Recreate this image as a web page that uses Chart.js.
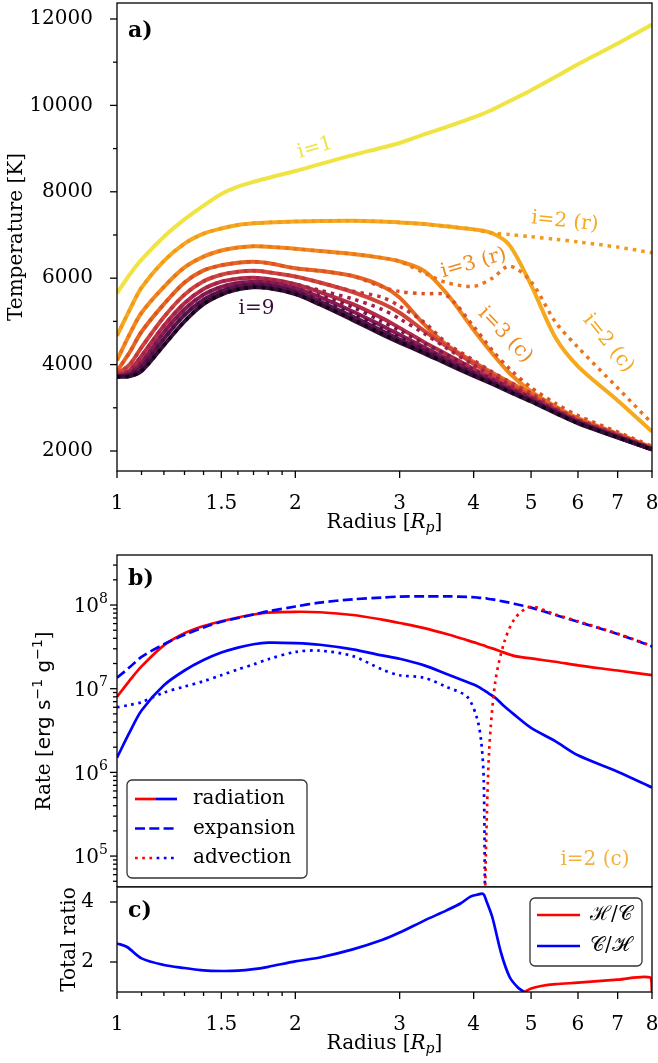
<!DOCTYPE html>
<html>
<head>
<meta charset="utf-8">
<script src="https://cdn.jsdelivr.net/npm/chart.js@4.4.1/dist/chart.umd.min.js"></script>
<style>
  body { margin: 0; background: #fff; width: 658px; height: 1063px; position: relative; overflow: hidden; }
  canvas { position: absolute; left: 0; }
</style>
</head>
<body>
<canvas id="chartA" width="658" height="540" style="top:0"></canvas>
<canvas id="chartB" width="658" height="342" style="top:545px"></canvas>
<canvas id="chartC" width="658" height="183" style="top:880px"></canvas>
<script>
// ── panel a: temperature profiles per iteration ──────────────────────────
const radiusA = [1, 1.05, 1.1, 1.2, 1.3, 1.4, 1.5, 1.6, 1.7, 1.8, 2, 2.2, 2.5, 2.8, 3, 3.3, 3.6, 4, 4.3, 4.6, 5, 5.5, 6, 7, 8];
const T1c = [5650, 6080, 6430, 6960, 7360, 7680, 7950, 8120, 8230, 8320, 8480, 8640, 8850, 9020, 9130, 9330, 9500, 9720, 9900, 10100, 10350, 10660, 10950, 11430, 11870];
const T2c = [4670, 5260, 5780, 6400, 6800, 7030, 7150, 7230, 7270, 7290, 7310, 7325, 7330, 7310, 7290, 7255, 7200, 7130, 7040, 6760, 5840, 4620, 3960, 3170, 2450];
const T2r = [4670, 5260, 5780, 6400, 6800, 7030, 7150, 7230, 7270, 7290, 7310, 7325, 7330, 7310, 7290, 7255, 7200, 7130, 7040, 7010, 6960, 6900, 6840, 6720, 6590];
const T3c = [4100, 4700, 5200, 5800, 6250, 6500, 6640, 6710, 6740, 6730, 6680, 6630, 6560, 6470, 6390, 6170, 5650, 4800, 4260, 3800, 3380, 3030, 2760, 2400, 2080];
const T3r = [4100, 4700, 5200, 5800, 6250, 6500, 6640, 6710, 6740, 6730, 6680, 6630, 6560, 6470, 6390, 6120, 5900, 5810, 6000, 6280, 5920, 4980, 4400, 3460, 2640];
const T4c = [3850, 4280, 4760, 5400, 5900, 6180, 6300, 6360, 6380, 6350, 6230, 6170, 6050, 5820, 5550, 4930, 4460, 4060, 3810, 3590, 3330, 2990, 2720, 2380, 2070];
const T4r = [3850, 4280, 4760, 5400, 5900, 6180, 6300, 6360, 6380, 6350, 6230, 6170, 6050, 5800, 5690, 5640, 5600, 4880, 4330, 3900, 3470, 3100, 2820, 2440, 2110];
const T5c = [3780, 4000, 4400, 5100, 5620, 5930, 6080, 6150, 6170, 6140, 6040, 5900, 5680, 5420, 5200, 4780, 4420, 4020, 3760, 3530, 3270, 2970, 2710, 2365, 2060];
const T5r = [3780, 4000, 4400, 5100, 5620, 5930, 6080, 6150, 6170, 6140, 6040, 5900, 5700, 5560, 5350, 4980, 4500, 4100, 3830, 3600, 3340, 3010, 2740, 2390, 2075];
const T6c = [3740, 3870, 4200, 4900, 5420, 5750, 5920, 5990, 6010, 5980, 5860, 5680, 5400, 5080, 4850, 4520, 4240, 3900, 3670, 3460, 3230, 2940, 2690, 2350, 2050];
const T6r = [3740, 3870, 4200, 4900, 5420, 5750, 5920, 5990, 6010, 5980, 5860, 5720, 5520, 5280, 5060, 4720, 4380, 3990, 3740, 3520, 3270, 2960, 2710, 2365, 2060];
const T7c = [3730, 3800, 4050, 4750, 5280, 5620, 5800, 5890, 5920, 5900, 5770, 5560, 5230, 4900, 4690, 4400, 4140, 3830, 3620, 3420, 3195, 2910, 2670, 2335, 2040];
const T7r = [3730, 3800, 4050, 4750, 5280, 5620, 5800, 5890, 5920, 5900, 5770, 5600, 5330, 5000, 4790, 4490, 4230, 3880, 3660, 3460, 3230, 2940, 2690, 2345, 2050];
const T8c = [3720, 3760, 3950, 4600, 5150, 5500, 5700, 5810, 5850, 5830, 5690, 5460, 5110, 4780, 4580, 4320, 4070, 3780, 3585, 3390, 3170, 2895, 2655, 2322, 2035];
const T8r = [3720, 3760, 3950, 4600, 5150, 5500, 5700, 5810, 5850, 5830, 5690, 5490, 5170, 4840, 4630, 4360, 4100, 3800, 3600, 3400, 3180, 2900, 2660, 2326, 2040];
const T9c = [3720, 3730, 3850, 4450, 5000, 5400, 5620, 5740, 5790, 5770, 5630, 5390, 5030, 4700, 4510, 4260, 4020, 3740, 3550, 3365, 3145, 2875, 2640, 2310, 2030];
const T9r = [3720, 3730, 3850, 4450, 5000, 5400, 5620, 5740, 5790, 5770, 5635, 5400, 5050, 4720, 4530, 4275, 4035, 3750, 3560, 3372, 3150, 2880, 2645, 2314, 2034];
const tempSolid  = [T1c, T2c, T3c, T4c, T5c, T6c, T7c, T8c, T9c];
const tempDotted = [null, T2r, T3r, T4r, T5r, T6r, T7r, T8r, T9r];

// ── panel b: heating / cooling rates for i=2 (c) ─────────────────────────
const radiusB = [1, 1.05, 1.1, 1.2, 1.3, 1.4, 1.5, 1.6, 1.7, 1.8, 2, 2.2, 2.5, 2.8, 3, 3.3, 3.6, 3.9, 4.05, 4.12, 4.16, 4.18, 4.2, 4.25, 4.35, 4.5, 4.7, 5, 5.5, 6, 7, 8];
const heatRad = [8.0e6, 1.25e7, 1.85e7, 3.3e7, 4.6e7, 5.6e7, 6.4e7, 7.1e7, 7.7e7, 8.1e7, 8.3e7, 8.2e7, 7.6e7, 6.7e7, 6.1e7, 5.3e7, 4.5e7, 3.8e7, 3.5e7, 3.35e7, 3.3e7, 3.25e7, 3.2e7, 3.1e7, 2.95e7, 2.7e7, 2.45e7, 2.3e7, 2.1e7, 1.9e7, 1.65e7, 1.45e7];
const coolRad = [1.5e6, 3.0e6, 5.5e6, 1.1e7, 1.65e7, 2.2e7, 2.7e7, 3.1e7, 3.4e7, 3.55e7, 3.5e7, 3.35e7, 2.95e7, 2.5e7, 2.28e7, 1.9e7, 1.5e7, 1.2e7, 1.08e7, 1.0e7, 9.6e6, 9.4e6, 9.2e6, 8.7e6, 7.8e6, 6.2e6, 4.8e6, 3.4e6, 2.35e6, 1.6e6, 1.02e6, 6.6e5];
const coolExp = [1.35e7, 1.8e7, 2.4e7, 3.4e7, 4.4e7, 5.4e7, 6.3e7, 7.0e7, 7.7e7, 8.4e7, 9.6e7, 1.07e8, 1.17e8, 1.23e8, 1.26e8, 1.27e8, 1.27e8, 1.25e8, 1.23e8, 1.22e8, 1.21e8, 1.2e8, 1.2e8, 1.18e8, 1.15e8, 1.1e8, 1.03e8, 9.3e7, 7.6e7, 6.3e7, 4.5e7, 3.2e7];
const coolAdv = [6.0e6, 6.4e6, 6.9e6, 9.0e6, 1.06e7, 1.23e7, 1.45e7, 1.7e7, 1.95e7, 2.25e7, 2.75e7, 2.85e7, 2.45e7, 1.7e7, 1.45e7, 1.35e7, 1.05e7, 8.0e6, 4.5e6, 2.3e6, 8.0e5, 3.0e4, null, null, null, null, null, null, null, null, null, null];
const heatAdv = [null, null, null, null, null, null, null, null, null, null, null, null, null, null, null, null, null, null, null, null, null, 3.0e4, 1.6e5, 1.9e6, 1.2e7, 3.5e7, 7.0e7, 9.5e7, 7.7e7, 6.4e7, 4.55e7, 3.25e7];

// ── panel c: total heating/cooling ratio ─────────────────────────────────
const radiusC = [1, 1.04, 1.1, 1.2, 1.3, 1.4, 1.5, 1.6, 1.7, 1.8, 2, 2.2, 2.5, 2.8, 3, 3.3, 3.6, 3.8, 3.95, 4.05, 4.15, 4.2, 4.3, 4.45, 4.6, 4.75, 4.87, 5, 5.2, 5.5, 6, 7, 7.95, 8];
const ratioCH = [2.62, 2.5, 2.12, 1.9, 1.8, 1.72, 1.7, 1.71, 1.76, 1.84, 2.02, 2.15, 2.42, 2.73, 2.98, 3.38, 3.72, 3.95, 4.18, 4.24, 4.27, 4.05, 3.5, 2.3, 1.5, 1.15, 1.0, null, null, null, null, null, null, null];
const ratioHC = [null, null, null, null, null, null, null, null, null, null, null, null, null, null, null, null, null, null, null, null, null, null, null, null, null, null, 1.0, 1.12, 1.2, 1.26, 1.31, 1.41, 1.48, 1.0];

// ── ticks ────────────────────────────────────────────────────────────────
const xMajor = [1, 1.5, 2, 3, 4, 5, 6, 7, 8];
const xMinor = [1.1, 1.2, 1.3, 1.4, 1.6, 1.7, 1.8, 1.9];
const tempMajor = [2000, 4000, 6000, 8000, 10000, 12000];
const tempMinor = [3000, 5000, 7000, 9000, 11000];
const rateMajor = [1e5, 1e6, 1e7, 1e8];
const rateExponents = ['5', '6', '7', '8'];
const ratioMajor = [2, 4];

const RED = '#ff0000', BLUE = '#0000ff';
const iterColors = ['#efe444', '#f4a91f', '#f08a1d', '#e4661f', '#d0453a', '#b32b46', '#8b1b4f', '#5f134d', '#380d39'];
const dotColors  = [null, '#f29a1c', '#ec741c', '#dc5126', '#c1353f', '#a0224b', '#76174e', '#4b0f45', '#0e0610'];

const SERIF = '"DejaVu Serif"';
const SANS = '"DejaVu Sans"';
Chart.defaults.font.family = SERIF;
Chart.defaults.font.size = 20;
Chart.defaults.color = '#000';

const toXY = (xs, ys) => xs.map((x, k) => ({ x, y: ys[k] }));
const tickObjs = (maj, min) => maj.map(v => ({ value: v, major: true })).concat((min || []).map(v => ({ value: v })));

// minor log ticks 2..9 per decade for the rate axis
const rateMinor = [];
[1e4, 1e5, 1e6, 1e7, 1e8].forEach(d => { for (let m = 2; m <= 9; m++) rateMinor.push(m * d); });

function xAxis(show, height) {
  return {
    type: 'logarithmic', min: 1, max: 8, display: show,
    grid: { display: false }, border: { display: false },
    ticks: { autoSkip: false, maxRotation: 0, padding: 13, callback: (v, i, t) => t[i].major ? String(v) : '' },
    afterBuildTicks: s => { s.ticks = tickObjs(xMajor, xMinor); },
    afterFit: s => { s.height = height; s.paddingLeft = 0; s.paddingRight = 0; }
  };
}
function yFit(s) { s.width = 117; s.paddingTop = 0; s.paddingBottom = 0; }

// rich text: parts with their own fonts / offsets, centred at (x, y)
function drawParts(ctx, parts, x, y, rot, align) {
  ctx.save();
  ctx.translate(x, y);
  ctx.rotate(rot || 0);
  ctx.textBaseline = 'middle';
  ctx.textAlign = 'left';
  let w = 0;
  parts.forEach(p => { ctx.font = p.font; p.w = ctx.measureText(p.t).width; w += p.w; });
  let cx = align === 'right' ? -w : -w / 2;
  parts.forEach(p => { ctx.font = p.font; ctx.fillStyle = p.color || '#000'; ctx.fillText(p.t, cx, p.dy || 0); cx += p.w; });
  ctx.restore();
}

const radiusTitle = [
  { t: 'Radius [', font: `20px ${SERIF}` },
  { t: 'R', font: `italic 20px ${SERIF}` },
  { t: 'p', font: `italic 14px ${SERIF}`, dy: 5 },
  { t: ']', font: `20px ${SERIF}` }
];

// frame, outward ticks, titles and panel tag
function decor(opts) {
  return {
    id: 'decor',
    afterDatasetsDraw(chart) {
      const { ctx, chartArea: a, scales } = chart;
      ctx.save();
      ctx.strokeStyle = '#000';
      ctx.lineWidth = 1.3;
      ctx.strokeRect(a.left, a.top, a.right - a.left, a.bottom - a.top);
      if (opts.xTicks) {
        scales.x.ticks.forEach(t => {
          const px = scales.x.getPixelForValue(t.value);
          ctx.beginPath(); ctx.moveTo(px, a.bottom); ctx.lineTo(px, a.bottom + (t.major ? 7 : 4)); ctx.stroke();
        });
      }
      scales.y.ticks.forEach(t => {
        const py = scales.y.getPixelForValue(t.value);
        ctx.beginPath(); ctx.moveTo(a.left, py); ctx.lineTo(a.left - (t.major ? 7 : 4), py); ctx.stroke();
      });
      ctx.restore();
      if (opts.xTitle) drawParts(ctx, radiusTitle, (a.left + a.right) / 2, a.bottom + 52, 0);
      drawParts(ctx, opts.yTitle, opts.yTitleX, (a.top + a.bottom) / 2, -Math.PI / 2);
      ctx.save();
      ctx.font = `bold 22px ${SERIF}`;
      ctx.fillStyle = '#000';
      ctx.textBaseline = 'alphabetic';
      ctx.fillText(opts.tag, a.left + 11, a.top + opts.tagY);
      ctx.restore();
    }
  };
}

const baseOptions = () => ({
  responsive: false, animation: false, devicePixelRatio: 1, events: [],
  elements: { point: { radius: 0 }, line: { tension: 0.3, fill: false, borderCapStyle: 'butt' } },
  plugins: { legend: { display: false }, tooltip: { enabled: false } }
});

// ── panel a ──────────────────────────────────────────────────────────────
const datasetsA = [];
tempSolid.forEach((ys, k) => {
  datasetsA.push({ data: toXY(radiusA, ys), borderColor: iterColors[k], borderWidth: 4 });
  if (tempDotted[k]) datasetsA.push({ data: toXY(radiusA, tempDotted[k]), borderColor: dotColors[k], borderWidth: 3.5, borderDash: [3.5, 5] });
});
datasetsA.forEach((d, k) => { d.order = -k; });

const labelsA = [
  { t: 'i=1', r: 2.16, v: 9014, rot: -16, c: iterColors[0] },
  { t: 'i=2 (r)', r: 5.70, v: 7308, rot: 6, c: iterColors[1] },
  { t: 'i=3 (r)', r: 4.0, v: 6345, rot: -16, c: iterColors[2] },
  { t: 'i=3 (c)', r: 4.52, v: 4685, rot: 46, c: iterColors[2] },
  { t: 'i=2 (c)', r: 6.75, v: 4493, rot: 51, c: iterColors[1] },
  { t: 'i=9', r: 1.72, v: 5303, rot: 0, c: iterColors[8] }
];
const annotA = {
  id: 'annotA',
  afterDatasetsDraw(chart) {
    const { ctx, scales: { x, y } } = chart;
    labelsA.forEach(l => {
      drawParts(ctx, [{ t: l.t, font: `20px ${SERIF}`, color: l.c }], x.getPixelForValue(l.r), y.getPixelForValue(l.v), l.rot * Math.PI / 180);
    });
  }
};

new Chart(document.getElementById('chartA'), {
  type: 'line',
  data: { datasets: datasetsA },
  options: Object.assign(baseOptions(), {
    layout: { padding: { top: 3, right: 6, left: 0, bottom: 0 } },
    scales: {
      x: xAxis(true, 69),
      y: {
        type: 'linear', min: 1537, max: 12370,
        grid: { display: false }, border: { display: false },
        ticks: { autoSkip: false, padding: 16, callback: (v, i, t) => t[i].major ? String(v) : '' },
        afterBuildTicks: s => { s.ticks = tickObjs(tempMajor, tempMinor); },
        afterFit: yFit
      }
    }
  }),
  plugins: [annotA, decor({ xTicks: true, xTitle: true, tag: 'a)', tagY: 34, yTitleX: 17,
    yTitle: [{ t: 'Temperature [K]', font: `20px ${SERIF}` }] })]
});

// ── panel b ──────────────────────────────────────────────────────────────
const dotB = [2.7, 4.5], dashB = [10, 4.3];
const datasetsB = [
  { data: toXY(radiusB, heatRad), borderColor: RED },
  { data: toXY(radiusB, coolRad), borderColor: BLUE },
  { data: toXY(radiusB, coolExp), borderColor: BLUE, borderDash: dashB },
  { data: toXY(radiusB, coolAdv), borderColor: BLUE, borderDash: dotB },
  { data: toXY(radiusB, heatAdv), borderColor: RED, borderDash: dotB }
];
datasetsB.forEach((d, k) => { d.order = -k; d.borderWidth = 2.7; });

const legendB = {
  id: 'legendB',
  afterDatasetsDraw(chart) {
    const { ctx, chartArea: a } = chart;
    const bx = a.left + 10, by = a.bottom - 107, bw = 180, bh = 98;
    ctx.save();
    ctx.beginPath(); ctx.roundRect(bx, by, bw, bh, 5);
    ctx.fillStyle = 'rgba(255,255,255,0.85)'; ctx.fill();
    ctx.strokeStyle = '#333'; ctx.lineWidth = 1.3; ctx.stroke();
    const rows = [
      { label: 'radiation', segs: [RED, BLUE], dash: [] },
      { label: 'expansion', segs: [BLUE], dash: dashB },
      { label: 'advection', segs: [RED, BLUE], dash: dotB }
    ];
    const x0 = a.left + 18, x1 = a.left + 60;
    rows.forEach((r, k) => {
      const yy = a.bottom - 88 + k * 29.5;
      ctx.lineWidth = 2.7;
      ctx.setLineDash(r.dash);
      const segW = (x1 - x0) / r.segs.length;
      r.segs.forEach((c, j) => {
        ctx.strokeStyle = c;
        ctx.lineDashOffset = j * segW;
        ctx.beginPath(); ctx.moveTo(x0 + j * segW, yy); ctx.lineTo(x0 + (j + 1) * segW, yy); ctx.stroke();
      });
      ctx.setLineDash([]);
      ctx.fillStyle = '#000'; ctx.font = `20px ${SERIF}`; ctx.textBaseline = 'middle';
      ctx.fillText(r.label, a.left + 76, yy);
    });
    ctx.restore();
    const { x, y } = chart.scales;
    drawParts(ctx, [{ t: 'i=2 (c)', font: `20px ${SERIF}`, color: '#f4b03a' }], x.getPixelForValue(6.41), y.getPixelForValue(8.96e4), 0);
    // power-of-ten tick labels with a real superscript
    rateMajor.forEach((v, k) => {
      const py = y.getPixelForValue(v);
      drawParts(ctx, [
        { t: '10', font: `20px ${SERIF}`, dy: 2 },
        { t: rateExponents[k], font: `14px ${SERIF}`, dy: -6 }
      ], a.left - 9, py, 0, 'right');
    });
  }
};

new Chart(document.getElementById('chartB'), {
  type: 'line',
  data: { datasets: datasetsB },
  options: Object.assign(baseOptions(), {
    layout: { padding: { top: 10, right: 6, left: 0, bottom: 0 } },
    scales: {
      x: xAxis(false, 0),
      y: {
        type: 'logarithmic', min: 4.27e4, max: 3.96e8,
        grid: { display: false }, border: { display: false },
        ticks: { autoSkip: false, callback: () => '' },
        afterBuildTicks: s => { s.ticks = tickObjs(rateMajor, rateMinor.filter(v => v > 4.27e4 && v < 3.96e8)); },
        afterFit: yFit
      }
    }
  }),
  plugins: [legendB, decor({ xTicks: false, xTitle: false, tag: 'b)', tagY: 30, yTitleX: 45,
    yTitle: [
      { t: 'Rate [', font: `20px ${SERIF}` },
      { t: 'erg s', font: `20px ${SANS}` },
      { t: '−1', font: `14px ${SANS}`, dy: -7 },
      { t: ' g', font: `20px ${SANS}` },
      { t: '−1', font: `14px ${SANS}`, dy: -7 },
      { t: ']', font: `20px ${SERIF}` }
    ] })]
});

// ── panel c ──────────────────────────────────────────────────────────────
const datasetsC = [
  { data: toXY(radiusC, ratioHC), borderColor: RED, borderWidth: 2.7 },
  { data: toXY(radiusC, ratioCH), borderColor: BLUE, borderWidth: 2.7 }
];

const legendC = {
  id: 'legendC',
  afterDatasetsDraw(chart) {
    const { ctx, chartArea: a } = chart;
    const bx = a.right - 122, by = a.top + 11, bw = 112, bh = 68;
    ctx.save();
    ctx.beginPath(); ctx.roundRect(bx, by, bw, bh, 5);
    ctx.fillStyle = 'rgba(255,255,255,0.85)'; ctx.fill();
    ctx.strokeStyle = '#333'; ctx.lineWidth = 1.3; ctx.stroke();
    const rows = [{ t: 'ℋ/𝒞', c: RED }, { t: '𝒞/ℋ', c: BLUE }];
    rows.forEach((r, k) => {
      const yy = a.top + 28 + k * 31;
      ctx.strokeStyle = r.c; ctx.lineWidth = 2.7;
      ctx.beginPath(); ctx.moveTo(a.right - 115, yy); ctx.lineTo(a.right - 72, yy); ctx.stroke();
      ctx.fillStyle = '#000'; ctx.font = `20px ${SERIF}`; ctx.textBaseline = 'middle';
      ctx.fillText(r.t, a.right - 62, yy);
    });
    ctx.restore();
  }
};

new Chart(document.getElementById('chartC'), {
  type: 'line',
  data: { datasets: datasetsC },
  options: Object.assign(baseOptions(), {
    layout: { padding: { top: 7, right: 6, left: 0, bottom: 0 } },
    scales: {
      x: xAxis(true, 71),
      y: {
        type: 'linear', min: 1, max: 4.5,
        grid: { display: false }, border: { display: false },
        ticks: { autoSkip: false, padding: 15, callback: (v, i, t) => t[i].major ? String(v) : '' },
        afterBuildTicks: s => { s.ticks = tickObjs(ratioMajor); },
        afterFit: yFit
      }
    }
  }),
  plugins: [legendC, decor({ xTicks: true, xTitle: true, tag: 'c)', tagY: 30, yTitleX: 70,
    yTitle: [{ t: 'Total ratio', font: `20px ${SERIF}` }] })]
});
</script>
</body>
</html>
